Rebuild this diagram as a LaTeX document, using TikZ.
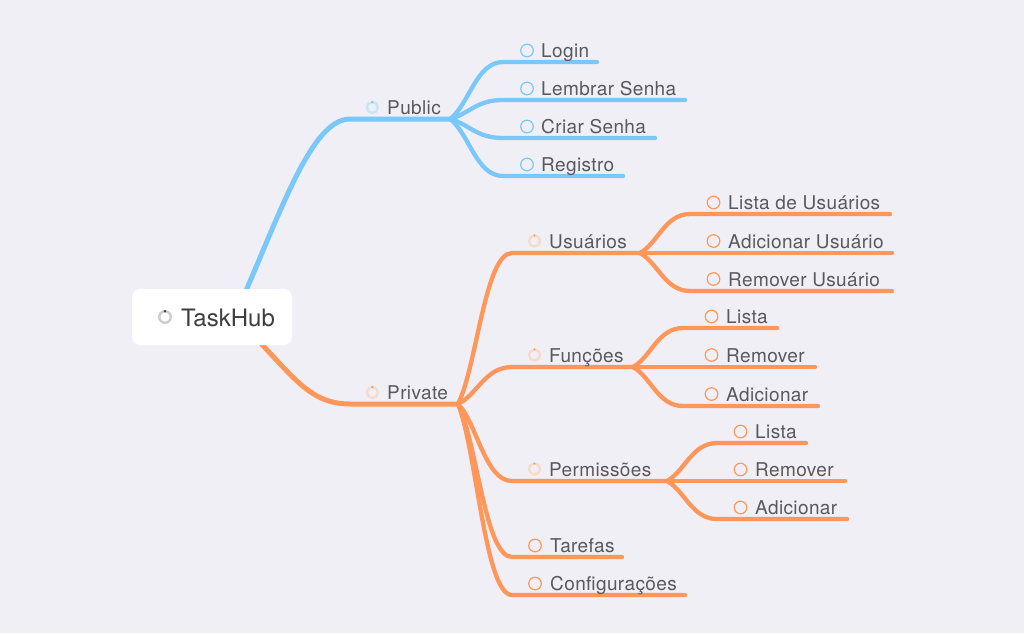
\documentclass[tikz,border=0pt]{standalone}
\usepackage{fontspec}
\setmainfont{TeX Gyre Heros}
\definecolor{bg}{RGB}{240,239,245}
\definecolor{mblue}{RGB}{122,200,250}
\definecolor{pblue}{RGB}{200,228,248}
\definecolor{morange}{RGB}{255,150,90}
\definecolor{porange}{RGB}{246,218,204}
\definecolor{txt}{RGB}{88,88,96}
\definecolor{roottxt}{RGB}{62,62,66}
\definecolor{rring}{RGB}{205,205,208}
\begin{document}
\begin{tikzpicture}[x=1pt,y=-1pt,
  bline/.style={draw=mblue,line width=4.3pt,line cap=round},
  oline/.style={draw=morange,line width=4.3pt,line cap=round},
  rootline/.style={line width=5pt,line cap=round},
  lbl/.style={anchor=base west,inner sep=0pt,text=txt,font=\fontsize{19}{21}\selectfont\addfontfeatures{LetterSpace=2}},
  leafring/.style={circle,draw=#1,line width=1.2pt,minimum size=12.6pt,inner sep=0pt,outer sep=0pt},
  mainring/.style={circle,draw=#1,line width=2.3pt,minimum size=11pt,inner sep=0pt,outer sep=0pt},
  rootbox/.style={draw=none,fill=white,rounded corners=8pt,minimum width=160pt,minimum height=56pt,inner sep=0pt}
]
\fill[bg] (0,0) rectangle (1024,633);
\useasboundingbox (0,0) rectangle (1024,633);

% ---------- coordinates ----------
\coordinate (rootA) at (234,318);
\coordinate (rootB) at (236,318);
\coordinate (pubS) at (350,119);
\coordinate (pubF) at (450,119);
\coordinate (loginS) at (503,62);   \coordinate (loginE) at (597,62);
\coordinate (lembS) at (503,100);   \coordinate (lembE) at (685,100);
\coordinate (criarS) at (503,138);  \coordinate (criarE) at (655,138);
\coordinate (regS) at (503,176);    \coordinate (regE) at (623,176);

\coordinate (privS) at (350,404);
\coordinate (privF) at (458,404);
\coordinate (usuS) at (512,253);  \coordinate (usuF) at (640,253);
\coordinate (funS) at (512,367);  \coordinate (funF) at (633,367);
\coordinate (perS) at (512,481);  \coordinate (perF) at (667,481);
\coordinate (tarS) at (512,557);  \coordinate (tarE) at (622,557);
\coordinate (cfgS) at (512,595);  \coordinate (cfgE) at (685,595);

\coordinate (lusS) at (690,214);  \coordinate (lusE) at (890,214);
\coordinate (ausE) at (892,253);
\coordinate (rusS) at (690,291);  \coordinate (rusE) at (892,291);

\coordinate (flS) at (683,328);   \coordinate (flE) at (777,328);
\coordinate (frE) at (815,367);
\coordinate (faS) at (683,406);   \coordinate (faE) at (818,406);

\coordinate (plS) at (717,443);   \coordinate (plE) at (806,443);
\coordinate (prE) at (845,481);
\coordinate (paS) at (717,519);   \coordinate (paE) at (847,519);

% ---------- blue branch ----------
\draw[rootline,draw=mblue] (rootA) .. controls +(45,-100) and +(-40,0) .. (pubS) -- (pubF);
\draw[bline] (pubF) .. controls +(19,-14) and +(-27,0) .. (loginS) -- (loginE);
\draw[bline] (pubF) .. controls +(19,-5) and +(-27,0) .. (lembS) -- (lembE);
\draw[bline] (pubF) .. controls +(19,5) and +(-27,0) .. (criarS) -- (criarE);
\draw[bline] (pubF) .. controls +(19,14) and +(-27,0) .. (regS) -- (regE);

% ---------- orange branch ----------
\draw[rootline,draw=morange] (rootB) .. controls +(54,52) and +(-45,0) .. (privS) -- (privF);
\draw[oline] (privF) .. controls +(19,-38) and +(-27,0) .. (usuS) -- (usuF);
\draw[oline] (privF) .. controls +(19,-9) and +(-27,0) .. (funS) -- (funF);
\draw[oline] (privF) .. controls +(19,19) and +(-27,0) .. (perS) -- (perF);
\draw[oline] (privF) .. controls +(19,38) and +(-27,0) .. (tarS) -- (tarE);
\draw[oline] (privF) .. controls +(19,48) and +(-27,0) .. (cfgS) -- (cfgE);

\draw[oline] (usuF) .. controls +(18,-10) and +(-25,0) .. (lusS) -- (lusE);
\draw[oline] (usuF) -- (ausE);
\draw[oline] (usuF) .. controls +(18,10) and +(-25,0) .. (rusS) -- (rusE);

\draw[oline] (funF) .. controls +(18,-10) and +(-25,0) .. (flS) -- (flE);
\draw[oline] (funF) -- (frE);
\draw[oline] (funF) .. controls +(18,10) and +(-25,0) .. (faS) -- (faE);

\draw[oline] (perF) .. controls +(18,-10) and +(-25,0) .. (plS) -- (plE);
\draw[oline] (perF) -- (prE);
\draw[oline] (perF) .. controls +(18,10) and +(-25,0) .. (paS) -- (paE);

% ---------- root ----------
\node[rootbox] (root) at (212,317) {};
\node[anchor=base west,inner sep=0pt,text=roottxt,font=\fontsize{24}{26}\selectfont] (roottext) at (181,326) {TaskHub};
\node[circle,draw=rring,line width=2.4pt,minimum size=11.5pt,inner sep=0pt] (rootI) at (165,317) {};
\fill[roottxt] ([yshift=5.8pt]rootI.center) circle (1.3pt);

% ---------- main labels ----------
\node[mainring=pblue] (pubI) at (372.3,107.5) {};
\fill[mblue] ([yshift=5.5pt]pubI.center) circle (1.2pt);
\node[lbl] (pub) at (387,114.5) {Public};

\node[mainring=porange] (privI) at (372.3,392.5) {};
\fill[morange] ([yshift=5.5pt]privI.center) circle (1.2pt);
\node[lbl] (priv) at (387,399.5) {Private};

\node[mainring=porange] (usuI) at (534.5,241) {};
\fill[morange] ([yshift=5.5pt]usuI.center) circle (1.2pt);
\node[lbl] (usu) at (549,248.5) {Usuários};

\node[mainring=porange] (funI) at (534.5,355) {};
\fill[morange] ([yshift=5.5pt]funI.center) circle (1.2pt);
\node[lbl] (fun) at (549,362.5) {Funções};

\node[mainring=porange] (perI) at (534.5,469) {};
\fill[morange] ([yshift=5.5pt]perI.center) circle (1.2pt);
\node[lbl] (per) at (549,476.5) {Permissões};

% ---------- leaf labels ----------
\node[leafring=mblue] (loginI) at (527,50.5) {};
\node[lbl] (login) at (541,57.5) {Login};
\node[leafring=mblue] (lembI) at (527,88.5) {};
\node[lbl] (lemb) at (541,95.5) {Lembrar Senha};
\node[leafring=mblue] (criarI) at (527,126.5) {};
\node[lbl] (criar) at (541,133.5) {Criar Senha};
\node[leafring=mblue] (regI) at (527,164.5) {};
\node[lbl] (reg) at (541,171.5) {Registro};

\node[leafring=morange] (lusI) at (713.5,202.5) {};
\node[lbl] (lus) at (728,209.5) {Lista de Usuários};
\node[leafring=morange] (ausI) at (713.5,241) {};
\node[lbl] (aus) at (728,248.5) {Adicionar Usuário};
\node[leafring=morange] (rusI) at (713.5,279) {};
\node[lbl] (rus) at (728,286.5) {Remover Usuário};

\node[leafring=morange] (flI) at (711.5,316.5) {};
\node[lbl] (fl) at (726,323.5) {Lista};
\node[leafring=morange] (frI) at (711.5,355) {};
\node[lbl] (fr) at (726,362.5) {Remover};
\node[leafring=morange] (faI) at (711.5,394) {};
\node[lbl] (fa) at (726,401.5) {Adicionar};

\node[leafring=morange] (plI) at (740.5,431.5) {};
\node[lbl] (pl) at (755,438.5) {Lista};
\node[leafring=morange] (prI) at (740.5,469.5) {};
\node[lbl] (pr) at (755,476.5) {Remover};
\node[leafring=morange] (paI) at (740.5,507.5) {};
\node[lbl] (pa) at (755,514.5) {Adicionar};

\node[leafring=morange] (tarI) at (535,545.5) {};
\node[lbl] (tar) at (550,552.5) {Tarefas};
\node[leafring=morange] (cfgI) at (535,583.5) {};
\node[lbl] (cfg) at (550,590.5) {Configurações};
\end{tikzpicture}
\end{document}
